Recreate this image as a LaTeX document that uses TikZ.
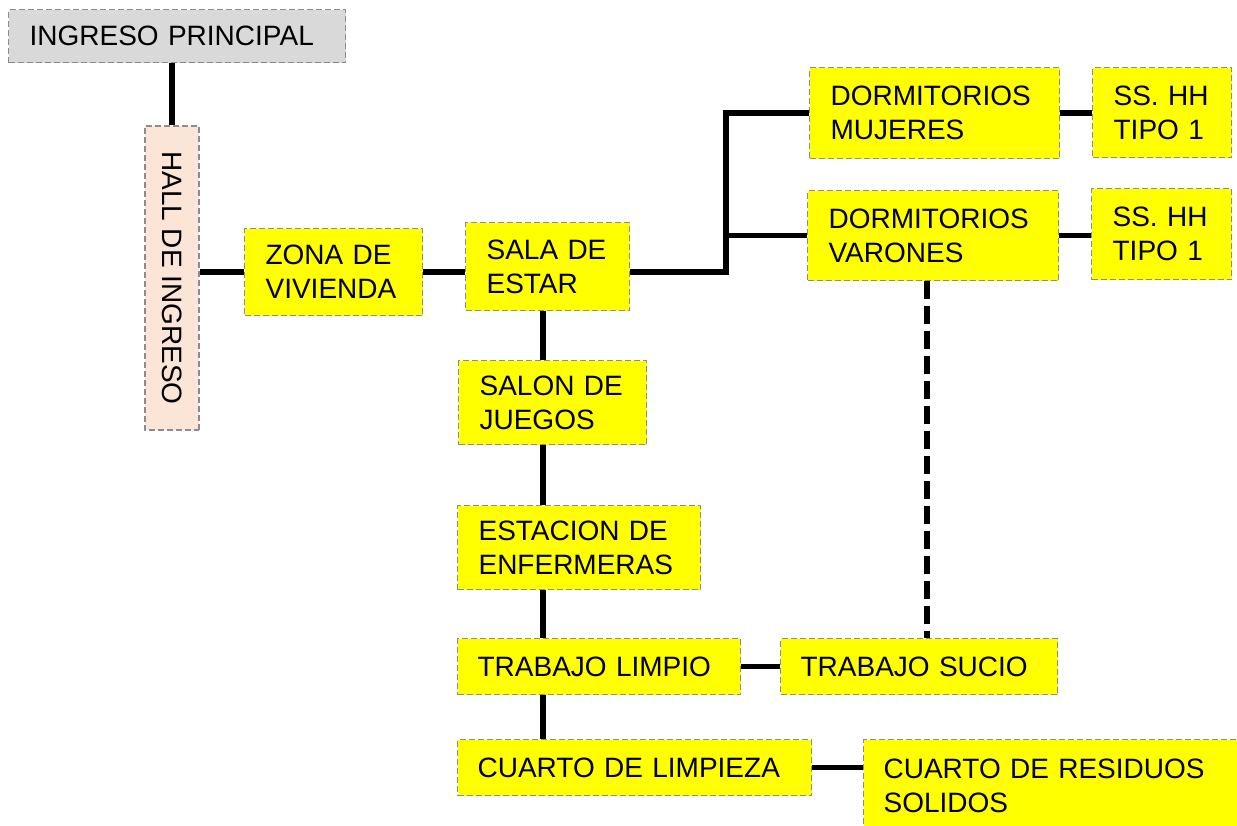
\documentclass[tikz,border=0pt]{standalone}
\usepackage{fontspec}
\setmainfont{Liberation Sans}
\usepackage{tikz}

\definecolor{roomyellow}{HTML}{FFFF00}
\definecolor{entrygray}{HTML}{D9D9D9}
\definecolor{hallpeach}{HTML}{FBE5D6}
\definecolor{edgegray}{HTML}{8C8C8C}

\tikzset{
  room/.style={draw=edgegray, line width=1.2pt, dash pattern=on 6pt off 3pt,
    fill=roomyellow, anchor=north west, align=left, inner xsep=21pt, inner ysep=0pt,
    font=\fontsize{28}{34}\selectfont},
  link/.style={line width=5.5pt, black},
  dashlink/.style={line width=6pt, black, dash pattern=on 18pt off 7pt}
}

\begin{document}
\begin{tikzpicture}[x=1pt,y=-1pt]

\useasboundingbox (0,0) rectangle (1237,826);

    \node[room, fill=entrygray, minimum width=337, minimum height=53, text width=295pt] (ingreso) at (8,9) {INGRESO PRINCIPAL};
    \node[room, fill=hallpeach, anchor=center, rotate=-90, minimum width=304, minimum height=54, inner xsep=0pt] (hall) at (172,278) {HALL DE INGRESO};
    \node[room, minimum width=178, minimum height=87, text width=136pt] (zona) at (244,228) {ZONA DE\\VIVIENDA};
    \node[room, minimum width=164, minimum height=88, text width=122pt] (sala) at (465,222) {SALA DE\\ESTAR};
    \node[room, minimum width=188, minimum height=84, text width=146pt] (salon) at (458,360) {SALON DE\\JUEGOS};
    \node[room, minimum width=243, minimum height=84, text width=201pt] (estacion) at (457,505) {ESTACION DE\\ENFERMERAS};
    \node[room, minimum width=283, minimum height=56, text width=243pt, inner xsep=20pt] (limpio) at (457,638) {TRABAJO LIMPIO};
    \node[room, minimum width=277, minimum height=56, text width=237pt, inner xsep=20pt] (sucio) at (780,638) {TRABAJO SUCIO};
    \node[room, minimum width=354, minimum height=56, text width=314pt, inner xsep=20pt] (limpieza) at (457,739) {CUARTO DE LIMPIEZA};
    \node[room, minimum width=374, minimum height=92, text width=334pt, inner xsep=20pt] (residuos) at (863,739) {CUARTO DE RESIDUOS\\SOLIDOS};
    \node[room, minimum width=250, minimum height=91, text width=208pt] (mujeres) at (809,67) {DORMITORIOS\\MUJERES};
    \node[room, minimum width=251, minimum height=90, text width=209pt] (varones) at (807,190) {DORMITORIOS\\VARONES};
    \node[room, minimum width=139, minimum height=90, text width=97pt] (sshhm) at (1092,67) {SS. HH\\TIPO 1};
    \node[room, minimum width=140, minimum height=91, text width=98pt] (sshhv) at (1091,188) {SS. HH\\TIPO 1};

\coordinate (fork) at (726,272);
\coordinate (spine) at (543,0);
\coordinate (drop) at (927,0);

\draw [link] (hall.west |- ingreso.south) -- (hall.west);
\draw [link] (zona.west) -- (zona.west -| hall.north);
\draw [link] (zona.east) -- (zona.east -| sala.west);
\draw [link] (sala.east |- fork) -- (fork) -- (fork |- mujeres.west) -- (mujeres.west);
\draw [link] (fork |- varones.west) -- (varones.west);
\draw [link] (mujeres.east) -- (mujeres.east -| sshhm.west);
\draw [link] (varones.east) -- (varones.east -| sshhv.west);

\draw [link] (sala.south -| spine) -- (salon.north -| spine);
\draw [link] (salon.south -| spine) -- (estacion.north -| spine);
\draw [link] (estacion.south -| spine) -- (limpio.north -| spine);
\draw [link] (limpio.south -| spine) -- (limpieza.north -| spine);
\draw [link] (limpio.east) -- (limpio.east -| sucio.west);
\draw [link] (limpieza.east) -- (limpieza.east -| residuos.west);

\draw [dashlink] (varones.south -| drop) -- (sucio.north -| drop);
\end{tikzpicture}
\end{document}
